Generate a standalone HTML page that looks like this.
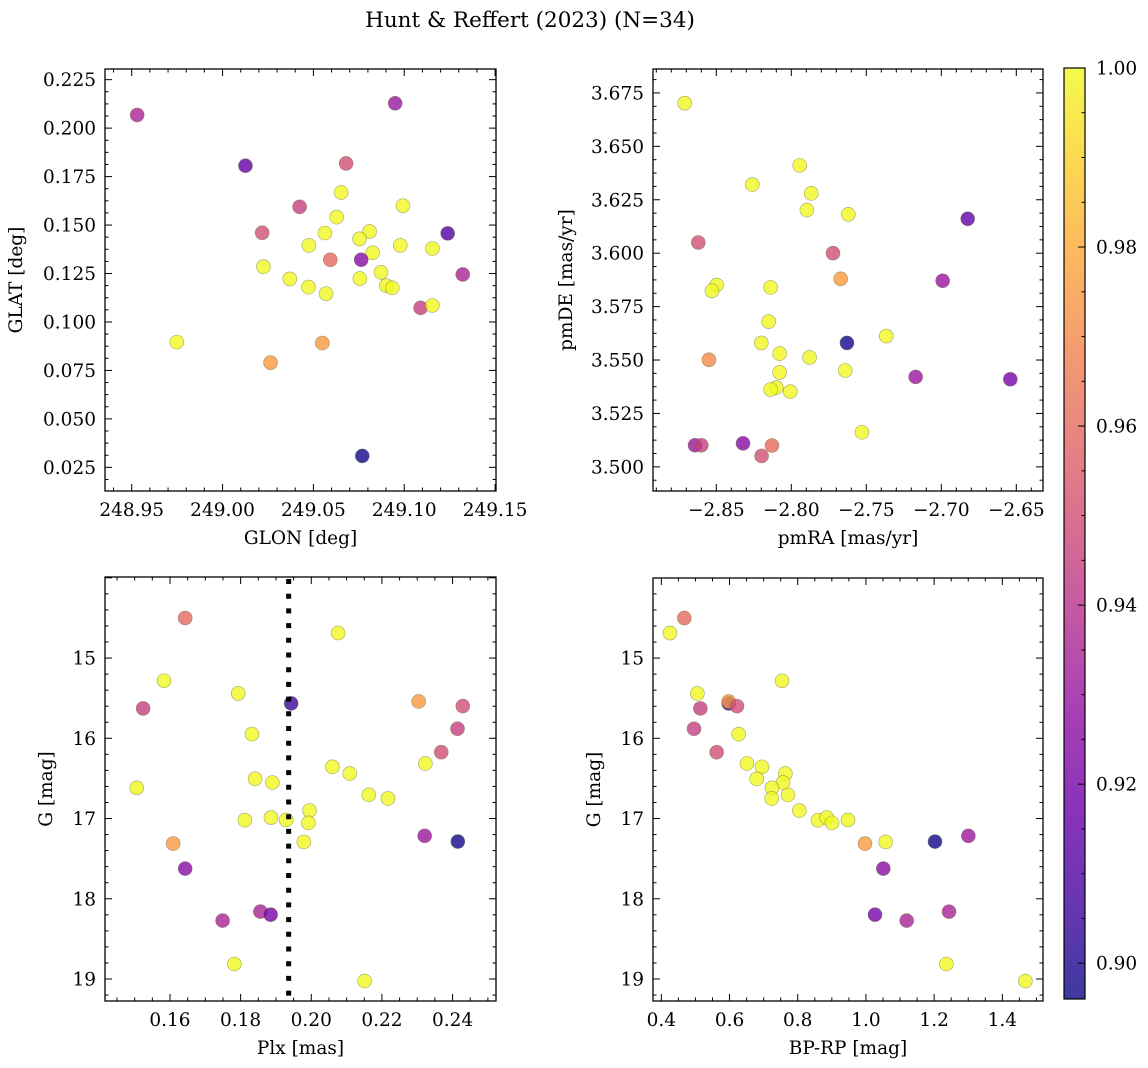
<!DOCTYPE html>
<html><head><meta charset="utf-8"><style>
html,body{margin:0;padding:0;background:#fff;}
svg{display:block;font-family:"DejaVu Serif","Liberation Serif",serif;}
</style></head><body>
<svg id="fig" width="1148" height="1068" viewBox="0 0 1148 1068" xmlns="http://www.w3.org/2000/svg">
<text x="530" y="27" text-anchor="middle" font-size="21.5">Hunt &amp; Reffert (2023) (N=34)</text>
</svg>
<script>
// ---- data ----
const glon = [248.953,249.095,249.0126,249.068,249.0653,249.0424,249.0993,249.0628,249.0218,249.0563,249.0809,249.0754,249.1239,249.0475,249.0978,249.1155,249.0826,249.0593,249.0763,249.0225,249.1322,249.0872,249.0370,249.0756,249.0473,249.0901,249.0934,249.0570,249.109,249.1155,248.9748,249.0549,249.0264,249.0769];
const glat = [0.2068,0.2128,0.1806,0.1818,0.1668,0.1594,0.1600,0.1541,0.1460,0.1459,0.1467,0.1429,0.1457,0.1395,0.1395,0.1379,0.1357,0.1321,0.1321,0.1285,0.1245,0.1256,0.1222,0.1224,0.1180,0.1187,0.1176,0.1146,0.1073,0.1085,0.0896,0.0891,0.0790,0.0309];
const probSky = [0.935,0.93,0.915,0.95,1,0.945,1,1,0.95,1,1,1,0.91,1,1,1,1,0.96,0.925,1,0.935,1,1,1,1,1,1,1,0.945,1,1,0.975,0.975,0.897];

const pmra = [-2.8711,-2.7944,-2.8260,-2.7867,-2.7896,-2.7620,-2.6824,-2.862,-2.7722,-2.7671,-2.6991,-2.8498,-2.8529,-2.8138,-2.8151,-2.7367,-2.8200,-2.7629,-2.8078,-2.8549,-2.7878,-2.8078,-2.7640,-2.7171,-2.654,-2.81,-2.8138,-2.8007,-2.7529,-2.8642,-2.86,-2.8322,-2.8129,-2.8198];
const pmde = [3.6702,3.6411,3.6321,3.6280,3.6202,3.6182,3.6161,3.605,3.600,3.588,3.5871,3.5851,3.5824,3.5840,3.5680,3.5612,3.5580,3.5580,3.5530,3.5501,3.5512,3.5442,3.5451,3.5421,3.5410,3.5371,3.5362,3.5352,3.5162,3.5101,3.5101,3.511,3.510,3.5051];
const probPm = [1,1,1,1,1,1,0.915,0.95,0.95,0.975,0.93,1,1,1,1,1,1,0.897,1,0.97,1,1,1,0.93,0.92,1,1,1,1,0.93,0.945,0.925,0.96,0.95];

const plx = [0.1643,0.2076,0.1583,0.1793,0.1943,0.2304,0.2429,0.1524,0.2414,0.1832,0.2368,0.2323,0.2060,0.2109,0.1841,0.1890,0.1506,0.2163,0.2217,0.1995,0.1812,0.1886,0.1929,0.1992,0.1979,0.2321,0.2415,0.1609,0.1643,0.1856,0.1885,0.1749,0.1782,0.2151];
const gmag = [14.501,14.688,15.283,15.441,15.565,15.541,15.599,15.628,15.881,15.948,16.173,16.314,16.356,16.439,16.505,16.551,16.617,16.705,16.750,16.900,17.021,16.988,17.017,17.054,17.291,17.216,17.287,17.312,17.624,18.160,18.198,18.272,18.813,19.025];
const bprp = [0.4674,0.4254,0.7539,0.5056,0.5975,0.5975,0.6219,0.5144,0.4958,0.6268,0.5623,0.6512,0.6952,0.7636,0.6796,0.7568,0.7245,0.7714,0.7235,0.8047,0.8594,0.8848,0.9474,0.9005,1.0579,1.3003,1.2025,0.9973,1.051,1.2436,1.0266,1.1195,1.2358,1.4674];
const probCmd = [0.96,1,1,1,0.905,0.975,0.95,0.945,0.945,1,0.95,1,1,1,1,1,1,1,1,1,1,1,1,1,1,0.93,0.897,0.975,0.925,0.935,0.92,0.935,1,1];
const plxCut = [0.1936];

const cbTicks = [0.90,0.92,0.94,0.96,0.98,1.00];
const vmin = 0.896, vmax = 1.0;

// ---- helpers ----
const NS = "http://www.w3.org/2000/svg";
const svg = document.getElementById('fig');
const FS = 18.5;
function mk(tag, attrs, parent){
  const e = document.createElementNS(NS, tag);
  for (const k in attrs) e.setAttribute(k, attrs[k]);
  (parent||svg).appendChild(e);
  return e;
}
const plasma = ["#0d0887","#41049d","#6a00a8","#8f0da4","#b12a90","#cc4778","#e16462","#f2844b","#fca636","#fcce25","#f0f921"];
function hex(c){return [parseInt(c.substr(1,2),16),parseInt(c.substr(3,2),16),parseInt(c.substr(5,2),16)];}
function cmap(t){
  t=Math.max(0,Math.min(1,t));
  const f=t*10, i=Math.min(9,Math.floor(f)), r=f-i;
  const a=hex(plasma[i]), b=hex(plasma[i+1]);
  return "rgb("+a.map((v,k)=>Math.round(v+(b[k]-v)*r)).join(",")+")";
}
function fmt(v,d){ const s=Math.abs(v).toFixed(d); return (v<0?"\u2212":"")+s; }

function panel(cfg){
  const {x0,x1,y0,y1,xmin,xmax,ymin,ymax,invertY,xs,ys,ps,name} = cfg;
  const X = v => x0 + (v-xmin)/(xmax-xmin)*(x1-x0);
  const Y = v => invertY ? y0 + (v-ymin)/(ymax-ymin)*(y1-y0) : y1 - (v-ymin)/(ymax-ymin)*(y1-y0);
  const g = mk('g',{});
  
  
  const eps=1e-9;
  for (let v=Math.ceil(xmin/cfg.xminor-eps)*cfg.xminor; v<=xmax+eps; v+=cfg.xminor){
    const px=X(v);
    const isMaj=Math.abs(v/cfg.xmajor-Math.round(v/cfg.xmajor))<1e-6;
    const L=isMaj?7:3.5;
    mk('line',{x1:px,x2:px,y1:y1,y2:y1-L,stroke:'#000','stroke-width':1},g);
    mk('line',{x1:px,x2:px,y1:y0,y2:y0+L,stroke:'#000','stroke-width':1},g);
  }
  for (let v=Math.ceil(ymin/cfg.yminor-eps)*cfg.yminor; v<=ymax+eps; v+=cfg.yminor){
    const py=Y(v);
    const isMaj=Math.abs(v/cfg.ymajor-Math.round(v/cfg.ymajor))<1e-6;
    const L=isMaj?7:3.5;
    mk('line',{x1:x0,x2:x0+L,y1:py,y2:py,stroke:'#000','stroke-width':1},g);
    mk('line',{x1:x1,x2:x1-L,y1:py,y2:py,stroke:'#000','stroke-width':1},g);
  }
  cfg.xticks.forEach(v=>{
    const t=mk('text',{x:X(v),y:y1+25,'text-anchor':'middle','font-size':FS},g);
    t.textContent=fmt(v,cfg.xdec);
    
    
  });
  cfg.yticks.forEach(v=>{
    const t=mk('text',{x:x0-9,y:Y(v)+6.5,'text-anchor':'end','font-size':FS},g);
    t.textContent=fmt(v,cfg.ydec);
    
    
  });
  const xl=mk('text',{x:(x0+x1)/2,y:y1+53,'text-anchor':'middle','font-size':FS},g);
  xl.textContent=cfg.xlabel;
  
  
  const yl=mk('text',{x:0,y:0,'text-anchor':'middle','font-size':FS,transform:`translate(${cfg.ylabx},${(y0+y1)/2}) rotate(-90)`},g);
  yl.textContent=cfg.ylabel;
  
  
  const clipId='clip-'+name;
  const cp=mk('clipPath',{id:clipId},g); mk('rect',{x:x0,y:y0,width:x1-x0,height:y1-y0},cp);
  const pg=mk('g',{'clip-path':`url(#${clipId})`},g);
  for(let i=0;i<xs.length;i++){
    const c=mk('circle',{cx:X(xs[i]),cy:Y(ys[i]),r:7,fill:cmap((ps[i]-vmin)/(vmax-vmin)),'fill-opacity':0.8,stroke:'#6a6a40','stroke-opacity':0.6,'stroke-width':0.6},pg);
    
    
  }
  if(cfg.vline){
    cfg.vline.forEach(v=>{
      const l=mk('line',{x1:X(v),x2:X(v),y1:y0+2,y2:y1,stroke:'#000','stroke-width':5,'stroke-dasharray':'5 9.7'},pg);
      
      
    });
  }
  mk('rect',{x:x0,y:y0,width:x1-x0,height:y1-y0,fill:'none',stroke:'#000','stroke-width':1.3},g);
}

panel({name:'sky',x0:105,x1:496,y0:69,y1:491,xmin:248.9353,xmax:249.1505,ymin:0.0128,ymax:0.2305,
  xs:glon,ys:glat,ps:probSky,xmajor:0.05,xminor:0.01,ymajor:0.025,yminor:0.00625,
  xticks:[248.95,249.00,249.05,249.10,249.15],xdec:2,yticks:[0.025,0.05,0.075,0.1,0.125,0.15,0.175,0.2,0.225],ydec:3,
  xlabel:'GLON [deg]',ylabel:'GLAT [deg]',ylabx:22});
panel({name:'pm',x0:653,x1:1043,y0:69,y1:491,xmin:-2.8922,xmax:-2.6322,ymin:3.4887,ymax:3.6862,
  xs:pmra,ys:pmde,ps:probPm,xmajor:0.05,xminor:0.01,ymajor:0.025,yminor:0.00625,
  xticks:[-2.85,-2.80,-2.75,-2.70,-2.65],xdec:2,yticks:[3.5,3.525,3.55,3.575,3.6,3.625,3.65,3.675],ydec:3,
  xlabel:'pmRA [mas/yr]',ylabel:'pmDE [mas/yr]',ylabx:572});
panel({name:'plx',x0:105,x1:496,y0:577,y1:1001,xmin:0.1416,xmax:0.2523,ymin:13.990,ymax:19.274,invertY:true,
  xs:plx,ys:gmag,ps:probCmd,xmajor:0.02,xminor:0.005,ymajor:1,yminor:0.2,
  xticks:[0.16,0.18,0.20,0.22,0.24],xdec:2,yticks:[15,16,17,18,19],ydec:0,
  xlabel:'Plx [mas]',ylabel:'G [mag]',ylabx:52,vline:plxCut});
panel({name:'cmd',x0:653,x1:1043,y0:578,y1:1001,xmin:0.3756,xmax:1.5192,ymin:14.002,ymax:19.274,invertY:true,
  xs:bprp,ys:gmag,ps:probCmd,xmajor:0.2,xminor:0.05,ymajor:1,yminor:0.2,
  xticks:[0.4,0.6,0.8,1.0,1.2,1.4],xdec:1,yticks:[15,16,17,18,19],ydec:0,
  xlabel:'BP-RP [mag]',ylabel:'G [mag]',ylabx:600});

(function(){
  const cx0=1064,cx1=1085,cy0=68,cy1=999;
  const defs=mk('defs',{});
  const grad=mk('linearGradient',{id:'cbg',x1:0,y1:1,x2:0,y2:0},defs);
  for(let i=0;i<=20;i++){ mk('stop',{offset:i/20,'stop-color':cmap(i/20),'stop-opacity':0.8},grad); }
  const g=mk('g',{});
  
  
  mk('rect',{x:cx0,y:cy0,width:cx1-cx0,height:cy1-cy0,fill:'url(#cbg)'},g);
  const Y=v=>cy1-(v-vmin)/(vmax-vmin)*(cy1-cy0);
  for(let k=0;k<=20;k++){
    const v=0.9+k*0.005; if(v<vmin) continue;
    const maj=k%4===0;
    mk('line',{x1:cx1,x2:cx1-(maj?7:3.5),y1:Y(v),y2:Y(v),stroke:'#000','stroke-width':1},g);
  }
  cbTicks.forEach(v=>{
    const t=mk('text',{x:cx1+11,y:Y(v)+6.5,'font-size':FS},g);
    t.textContent=v.toFixed(2);
    
    
  });
  mk('rect',{x:cx0,y:cy0,width:cx1-cx0,height:cy1-cy0,fill:'none',stroke:'#000','stroke-width':1.2},g);
})();
</script>
</body></html>
